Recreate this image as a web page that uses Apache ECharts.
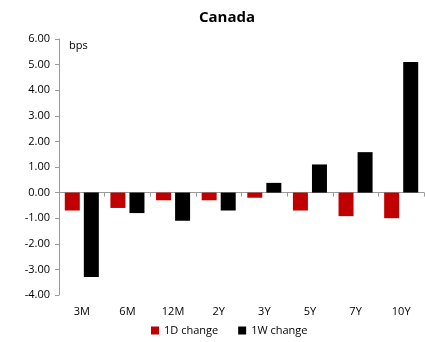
<!DOCTYPE html>
<html>
<head>
<meta charset="utf-8">
<script src="https://cdn.jsdelivr.net/npm/echarts@6/dist/echarts.min.js"></script>
<style>
html, body { margin: 0; padding: 0; background: #fff; }
#chart { width: 425px; height: 342px; }
</style>
</head>
<body>
<div id="chart"></div>
<script>
var tenors = ['3M', '6M', '12M', '2Y', '3Y', '5Y', '7Y', '10Y'];
var change1D = [-0.70, -0.60, -0.30, -0.30, -0.20, -0.70, -0.92, -1.00];
var change1W = [-3.30, -0.80, -1.10, -0.70, 0.38, 1.10, 1.58, 5.10];

var myChart = echarts.init(document.getElementById('chart'));
var font = 'Open Sans';

option = {
    backgroundColor: '#ffffff',
    animation: false,
    title: {
        text: 'Canada',
        left: 194,
        top: 5,
        textStyle: { fontFamily: font, fontSize: 15, fontWeight: 'bold', color: '#000' }
    },
    legend: {
        data: ['1D change', '1W change'],
        bottom: 1,
        left: 146,
        icon: 'rect',
        itemWidth: 8,
        itemHeight: 8,
        itemGap: 20,
        textStyle: { fontFamily: font, fontSize: 11, color: '#000' }
    },
    graphic: [{
        type: 'text',
        left: 69,
        top: 40,
        style: { text: 'bps', font: '11px "Open Sans"', fill: '#000' }
    }],
    grid: { left: 59, right: 1, top: 39, bottom: 47 },
    xAxis: [{
        type: 'category',
        data: tenors,
        axisLine: { onZero: true, lineStyle: { color: '#9a9a9a', width: 1 } },
        axisTick: { show: true, length: 4, lineStyle: { color: '#9a9a9a' } },
        axisLabel: { show: false },
        splitLine: { show: false }
    }, {
        type: 'category',
        data: tenors,
        position: 'bottom',
        axisLine: { show: false, onZero: false },
        axisTick: { show: false },
        axisLabel: { margin: 11, fontFamily: font, fontSize: 11, color: '#000' }
    }],
    yAxis: {
        type: 'value',
        min: -4,
        max: 6,
        interval: 1,
        axisLine: { show: true, lineStyle: { color: '#9a9a9a' } },
        axisTick: { show: true, length: 4, lineStyle: { color: '#9a9a9a' } },
        splitLine: { show: false },
        axisLabel: {
            margin: 9,
            fontFamily: font, fontSize: 11, color: '#000',
            formatter: function (v) { return v.toFixed(2); }
        }
    },
    series: [{
        name: '1D change',
        type: 'bar',
        xAxisIndex: 0,
        data: change1D,
        barWidth: 15,
        barGap: '27%',
        itemStyle: { color: '#c00000' }
    }, {
        name: '1W change',
        type: 'bar',
        xAxisIndex: 0,
        data: change1W,
        barWidth: 15,
        itemStyle: { color: '#000000' }
    }]
};

myChart.setOption(option);
</script>
</body>
</html>
